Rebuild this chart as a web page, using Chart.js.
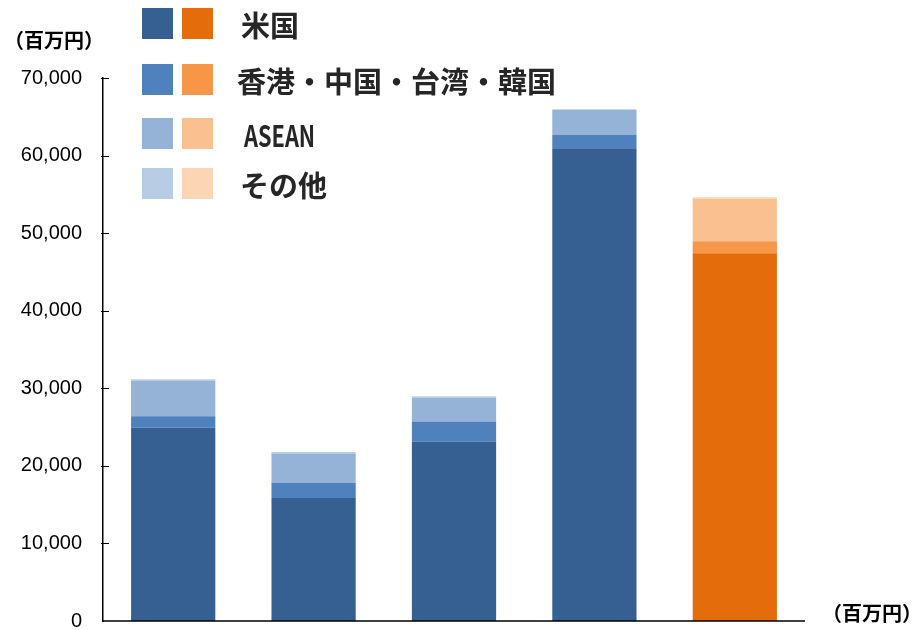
<!DOCTYPE html>
<html><head><meta charset="utf-8">
<script src="https://cdn.jsdelivr.net/npm/chart.js@4/dist/chart.umd.min.js"></script>
<style>
html,body{margin:0;padding:0;background:#fff;}
#wrap{position:relative;width:915px;height:630px;}
canvas{position:absolute;left:0;top:0;}
.box{position:absolute;width:31px;height:31px;}
.lt{position:absolute;font-family:"Noto Sans CJK JP","Noto Sans",sans-serif;font-weight:bold;font-size:29px;color:#262626;line-height:1;white-space:nowrap;transform:translateY(-50%);}
.unit{position:absolute;font-family:"Noto Sans CJK JP",sans-serif;font-weight:bold;font-size:20px;color:#000;line-height:1;white-space:nowrap;transform:translateY(-50%);}
</style></head>
<body><div id="wrap"><canvas id="c" width="915" height="630"></canvas></div>
<script>
const categories = ["A", "B", "C", "D", "E"];
const seriesNames = ["米国", "香港・中国・台湾・韓国", "ASEAN", "その他"];
const usValues    = [24900, 15850, 23150, 60850, 47400];
const eastAsia    = [1500, 1930, 2580, 1800, 1550];
const aseanValues = [4550, 3740, 3050, 3230, 5450];
const otherValues = [200, 260, 180, 100, 220];
const yTicks = [0, 10000, 20000, 30000, 40000, 50000, 60000, 70000];
const unitLabel = "（百万円）";

const blues   = ["#366092", "#4F81BD", "#95B3D7", "#B8CCE4"];
const oranges = ["#E46C0A", "#F79646", "#FAC090", "#FCD5B4"];
const seriesData = [usValues, eastAsia, aseanValues, otherValues];

function colorsFor(i){ return categories.map((c, k) => k === categories.length - 1 ? oranges[i] : blues[i]); }

const datasets = seriesData.map((d, i) => ({
  label: seriesNames[i], data: d, backgroundColor: colorsFor(i), borderWidth: 0,
  barPercentage: 0.6, categoryPercentage: 1.0
}));

const axisDecor = {
  id: 'axisDecor',
  afterDraw(chart){
    const y = chart.scales.y, ctx = chart.ctx, a = chart.chartArea, x0 = a.left;
    ctx.save(); ctx.strokeStyle = '#000'; ctx.lineWidth = 1;
    yTicks.forEach(v => { if (v === 0) return; const py = Math.round(y.getPixelForValue(v)) + 0.5;
      ctx.beginPath(); ctx.moveTo(x0 - 2, py); ctx.lineTo(x0 + 6, py); ctx.stroke(); });
    ctx.lineWidth = 1.5;
    const by = y.getPixelForValue(0);
    ctx.beginPath(); ctx.moveTo(x0, by); ctx.lineTo(a.right, by); ctx.stroke();
    ctx.restore();
  }
};

new Chart(document.getElementById('c'), {
  type: 'bar',
  data: { labels: categories, datasets },
  options: {
    responsive: false, animation: false,
    layout: { padding: { top: 78, right: 110, bottom: 9, left: 0 } },
    plugins: { legend: { display: false }, tooltip: { enabled: false } },
    scales: {
      x: { stacked: true, display: false },
      y: { stacked: true, min: 0, max: 70000,
           afterBuildTicks(s){ s.ticks = yTicks.map(v => ({ value: v })); },
           grid: { display: false, drawTicks: false },
           border: { display: true, color: '#000', width: 1.5 },
           ticks: { padding: 21, color: '#000', font: { family: 'Liberation Sans, Arial, sans-serif', size: 20 },
                    callback: v => v.toLocaleString('en-US') },
           afterFit(s){ s.width = 103; s.paddingTop = 0; s.paddingBottom = 0; } }
    }
  },
  plugins: [axisDecor]
});

const wrap = document.getElementById('wrap');
const rows = [{y:8, ty:24}, {y:64, ty:80}, {y:118, ty:134}, {y:168, ty:184}];
const textX = [241, 237, 244, 240];
rows.forEach((r, i) => {
  const b1 = document.createElement('div'); b1.className = 'box';
  b1.style.left = '142px'; b1.style.top = r.y + 'px'; b1.style.background = blues[i]; wrap.appendChild(b1);
  const b2 = document.createElement('div'); b2.className = 'box';
  b2.style.left = '182px'; b2.style.top = r.y + 'px'; b2.style.background = oranges[i]; wrap.appendChild(b2);
  const t = document.createElement('div'); t.className = 'lt';
  t.style.left = textX[i] + 'px'; t.style.top = r.ty + 'px'; t.textContent = seriesNames[i];
  if (seriesNames[i] === 'ASEAN') { t.style.transform = 'translateY(-50%) scaleX(0.75)'; t.style.transformOrigin = 'left center'; }
  wrap.appendChild(t);
});
const u1 = document.createElement('div'); u1.className = 'unit'; u1.style.left = '4px'; u1.style.top = '40px'; u1.textContent = unitLabel; wrap.appendChild(u1);
const u2 = document.createElement('div'); u2.className = 'unit'; u2.style.left = '822px'; u2.style.top = '613px'; u2.textContent = unitLabel; wrap.appendChild(u2);
</script></body></html>
